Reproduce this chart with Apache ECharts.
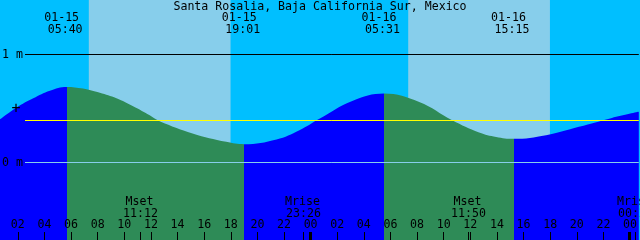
<!DOCTYPE html>
<html><head><meta charset="utf-8">
<script src="https://cdn.jsdelivr.net/npm/echarts@6/dist/echarts.min.js"></script>
<style>html,body{margin:0;padding:0;background:#00BFFF}#c{width:640px;height:240px}</style>
</head><body><div id="c"></div>
<script>
const title = 'Santa Rosalia, Baja California Sur, Mexico';
// hours since 01-15 00:00 (local)
const tideHours   = [0.66, 1.91, 3.16, 4.41, 5.667, 6.9, 8.16, 9.41, 10.66, 11.91, 12.66, 15.13, 17.66, 19.017, 21.44, 23.16, 24.66, 27.13, 29.517, 32.16, 34.64, 36.66, 37.94, 39.25, 41.69, 44.16, 46.64, 48.66];
const tideHeights = [0.40, 0.51, 0.595, 0.665, 0.70, 0.685, 0.645, 0.594, 0.52, 0.437, 0.382, 0.269, 0.191, 0.169, 0.213, 0.299, 0.405, 0.570, 0.639, 0.561, 0.392, 0.278, 0.237, 0.219, 0.253, 0.330, 0.413, 0.469];
const extremeHours = [5.667, 19.017, 29.517, 39.25];
const extremeDates = ['01-15', '01-15', '01-16', '01-16'];
const extremeTimes = ['05:40', '19:01', '05:31', '15:15'];
const sunriseHours = [7.333, 31.333];
const sunsetHours  = [17.983, 41.983];
const moonHours = [11.2, 23.433, 35.833, 48.4];
const moonNames = ['Mset', 'Mrise', 'Mset', 'Mrise'];
const moonTimes = ['11:12', '23:26', '11:50', '00:24'];
const midnightHours = [24, 48];
const levelValues = [1, 0.5, 0];
const levelLabels = ['1 m', '+', '0 m'];
const meanLevel = 0.389;

const FONT = '11.6px "DejaVu Sans Mono"';
const X_MIN = 0.66, X_MAX = 48.66;
const Y_MIN = -0.7176, Y_MAX = 1.5046;

const pieces = [];
const floodColor = '#0000FF', ebbColor = '#2E8B57';
for (let i = 0; i <= extremeHours.length; i++) {
  const p = {};
  if (i > 0) p.gte = extremeHours[i - 1];
  if (i < extremeHours.length) p.lt = extremeHours[i];
  p.color = (i % 2 === 0) ? floodColor : ebbColor;
  pieces.push(p);
}

const chart = echarts.init(document.getElementById('c'), null, {renderer: 'canvas'});
chart.setOption({
  animation: false,
  backgroundColor: '#00BFFF',
  title: {text: title, left: 'center', top: 0, padding: [1, 0, 0, 0],
    textStyle: {fontFamily: 'DejaVu Sans Mono', fontSize: 11.6, fontWeight: 'normal', color: '#000'}},
  grid: {left: 0, right: 0, top: 0, bottom: 0, containLabel: false},
  xAxis: {type: 'value', min: X_MIN, max: X_MAX, splitNumber: 24, z: 10, position: 'bottom',
    axisLine: {show: false, onZero: false}, splitLine: {show: false},
    axisTick: {show: true, inside: true, length: 8, lineStyle: {color: '#000', width: 1}},
    axisLabel: {inside: true, margin: 9, showMinLabel: false, showMaxLabel: false,
      fontFamily: 'DejaVu Sans Mono', fontSize: 11.6, color: '#000',
      formatter: v => String(Math.round(v) % 24).padStart(2, '0')}},
  yAxis: {type: 'value', min: Y_MIN, max: Y_MAX, show: false, splitLine: {show: false}},
  visualMap: {show: false, type: 'piecewise', dimension: 0, seriesIndex: 1, pieces: pieces},
  series: [
    { // daylight
      type: 'custom', z: 1, silent: true,
      data: sunriseHours.map((s, i) => [s, sunsetHours[i], 0]),
      encode: {x: [0, 1], y: 2},
      renderItem: (params, api) => {
        const a = api.coord([api.value(0), 0]);
        const b = api.coord([api.value(1), 0]);
        return {type: 'rect', shape: {x: a[0], y: params.coordSys.y, width: b[0] - a[0], height: params.coordSys.height},
          style: {fill: '#87CEEB'}};
      }
    },
    { // water
      type: 'line', z: 2, silent: true, smooth: 0.4, showSymbol: false,
      data: tideHours.map((h, i) => [h, tideHeights[i]]),
      lineStyle: {width: 0},
      areaStyle: {origin: 'start', opacity: 1}
    },
    { // level lines
      type: 'custom', z: 3, silent: true,
      data: [[X_MIN, 1, 0], [X_MIN, 0, 1], [X_MIN, meanLevel, 2]],
      encode: {x: 0, y: 1},
      renderItem: (params, api) => {
        const colors = ['#000000', '#87CEEB', '#FFFF00'];
        const y = Math.round(api.coord([X_MIN, api.value(1)])[1] - 0.5) + 0.5;
        const cs = params.coordSys;
        return {type: 'line', shape: {x1: cs.x + 25, y1: y, x2: cs.x + cs.width, y2: y},
          style: {stroke: colors[api.value(2)], lineWidth: 1}};
      }
    },
    { // level labels
      type: 'custom', z: 6, silent: true,
      data: levelValues.map(v => [X_MIN, v]),
      encode: {x: 0, y: 1},
      renderItem: (params, api) => {
        const i = params.dataIndex;
        const y = api.coord([X_MIN, api.value(1)])[1];
        const isPlus = levelLabels[i] === '+';
        return {type: 'text', style: {text: levelLabels[i], x: isPlus ? 16 : 2, y: y + 0.5,
          align: isPlus ? 'center' : 'left', verticalAlign: 'middle',
          font: isPlus ? '15px "DejaVu Sans Mono"' : FONT, fill: '#000'}};
      }
    },
    { // tide extreme labels
      type: 'custom', z: 6, silent: true,
      data: extremeHours.map(h => [h, 0]),
      encode: {x: 0, y: 1},
      renderItem: (params, api) => {
        const i = params.dataIndex;
        const x = api.coord([api.value(0), 0])[0];
        const top = params.coordSys.y;
        return {type: 'group', children: [
          {type: 'text', style: {text: extremeDates[i], x: x - 5, y: top + 18, align: 'center', verticalAlign: 'middle', font: FONT, fill: '#000'}},
          {type: 'text', style: {text: extremeTimes[i], x: x - 1.5, y: top + 30, align: 'center', verticalAlign: 'middle', font: FONT, fill: '#000'}}
        ]};
      }
    },
    { // moon labels and ticks
      type: 'custom', z: 6, silent: true,
      data: moonHours.map(h => [h, 0]),
      encode: {x: 0, y: 1},
      renderItem: (params, api) => {
        const i = params.dataIndex;
        const x = Math.round(api.coord([api.value(0), 0])[0]) + 0.5;
        const bottom = params.coordSys.y + params.coordSys.height;
        return {type: 'group', children: [
          {type: 'text', style: {text: moonNames[i], x: x - 1, y: bottom - 38, align: 'center', verticalAlign: 'middle', font: FONT, fill: '#000'}},
          {type: 'text', style: {text: moonTimes[i], x: x, y: bottom - 26, align: 'center', verticalAlign: 'middle', font: FONT, fill: '#000'}},
          {type: 'line', shape: {x1: x, y1: bottom - 8, x2: x, y2: bottom}, style: {stroke: '#000', lineWidth: 1}}
        ]};
      }
    },
    { // midnight ticks
      type: 'custom', z: 6, silent: true,
      data: midnightHours.map(h => [h, 0]),
      encode: {x: 0, y: 1},
      renderItem: (params, api) => {
        const x = api.coord([api.value(0), 0])[0];
        const bottom = params.coordSys.y + params.coordSys.height;
        return {type: 'rect', shape: {x: Math.round(x) - 2, y: bottom - 8, width: 3, height: 8}, style: {fill: '#000'}};
      }
    }
  ]
});
</script></body></html>
